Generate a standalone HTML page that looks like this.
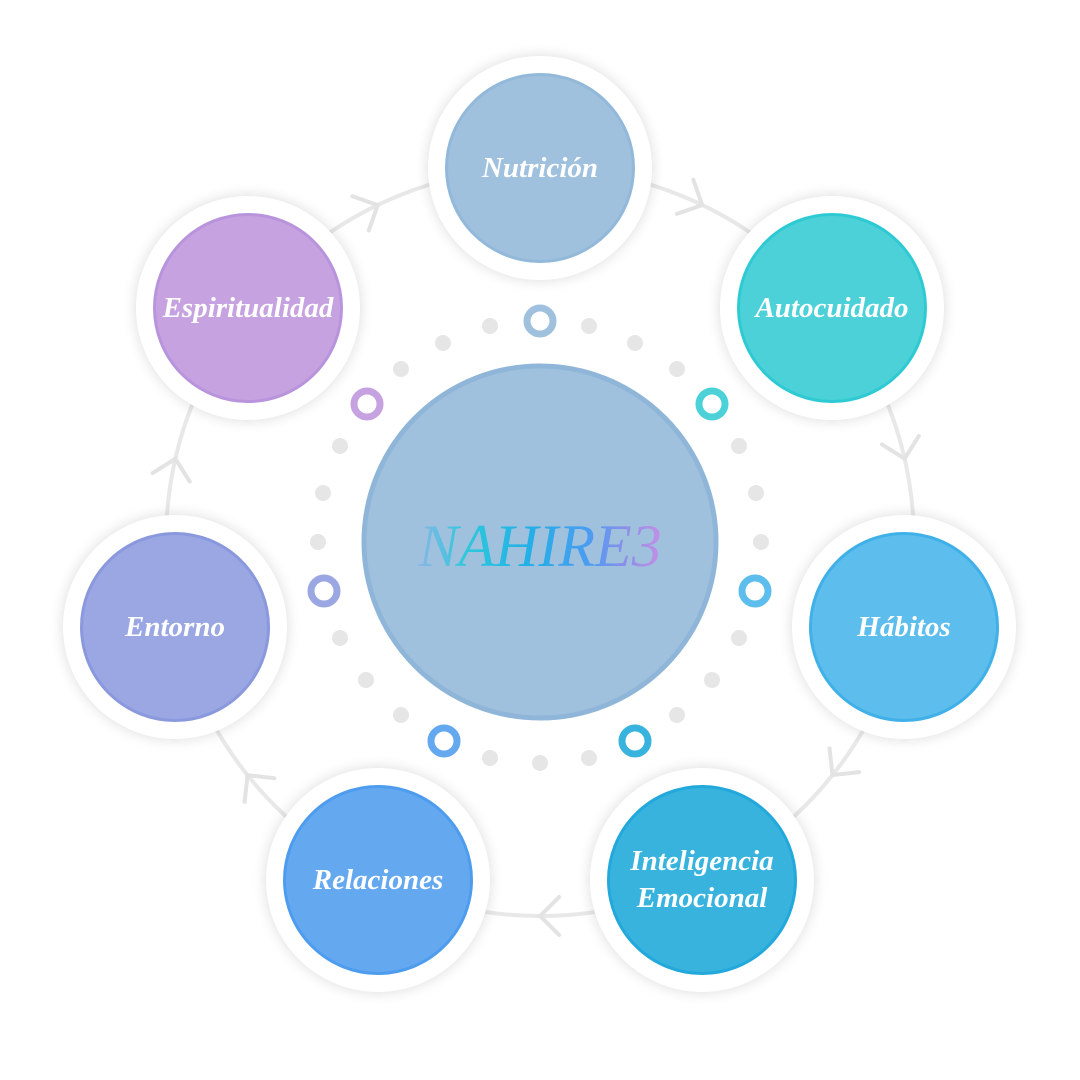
<!DOCTYPE html>
<html><head><meta charset="utf-8"><style>
body{margin:0;width:1080px;height:1080px;background:#fff;position:relative;overflow:hidden;font-family:"Liberation Serif",serif}
.o{position:absolute;width:224px;height:224px;border-radius:50%;background:#fff;box-shadow:0 0 14px rgba(0,0,0,0.14)}
.i{position:absolute;left:17px;top:17px;width:184px;height:184px;border-radius:50%;border:3px solid;display:flex;align-items:center;justify-content:center;text-align:center;color:#fff;font-style:italic;font-weight:bold;font-size:29px;line-height:37px}
svg{position:absolute;left:0;top:0}
</style></head><body>
<svg width="1080" height="1080">
<circle cx="540" cy="542" r="374" fill="none" stroke="#e8e8e8" stroke-width="4"/>
<g fill="none" stroke="#e3e3e3" stroke-width="4" stroke-linecap="round" id="arr"></g>
<g fill="#e6e6e6">
<circle cx="490" cy="326" r="8"/><circle cx="589" cy="326" r="8"/><circle cx="443" cy="343" r="8"/><circle cx="635" cy="343" r="8"/><circle cx="401" cy="369" r="8"/><circle cx="677" cy="369" r="8"/><circle cx="340" cy="446" r="8"/><circle cx="739" cy="446" r="8"/><circle cx="323" cy="493" r="8"/><circle cx="756" cy="493" r="8"/><circle cx="318" cy="542" r="8"/><circle cx="761" cy="542" r="8"/><circle cx="340" cy="638" r="8"/><circle cx="739" cy="638" r="8"/><circle cx="366" cy="680" r="8"/><circle cx="712" cy="680" r="8"/><circle cx="401" cy="715" r="8"/><circle cx="677" cy="715" r="8"/><circle cx="490" cy="758" r="8"/><circle cx="589" cy="758" r="8"/><circle cx="540" cy="763" r="8"/>
</g>
<g fill="none" stroke-width="7">
<circle cx="540" cy="321" r="13" stroke="#9fc1de"/><circle cx="712" cy="404" r="13" stroke="#4dd1d8"/><circle cx="755" cy="591" r="13" stroke="#5dbdec"/><circle cx="635" cy="741" r="13" stroke="#38b3de"/><circle cx="444" cy="741" r="13" stroke="#64a8f0"/><circle cx="324" cy="591" r="13" stroke="#9ba7e3"/><circle cx="367" cy="404" r="13" stroke="#c6a3e0"/>
</g>
<circle cx="540" cy="542" r="176" fill="#a0c1dd" stroke="#8fb6d8" stroke-width="5"/>
<defs><linearGradient id="g" x1="0" x2="1"><stop offset="0" stop-color="#8ab6e6"/><stop offset="0.2" stop-color="#2ec8dc"/><stop offset="0.45" stop-color="#22b0e6"/><stop offset="0.7" stop-color="#4a9cf2"/><stop offset="0.85" stop-color="#8b8fe8"/><stop offset="1" stop-color="#c48fe6"/></linearGradient></defs>
<text x="540" y="566" text-anchor="middle" font-family="Liberation Serif" font-style="italic" font-size="60" fill="url(#g)">NAHIRE3</text>
</svg>
<div class="o" style="left:428px;top:56px"><div class="i" style="background:#a0c1dd;border-color:#92b8da">Nutrición</div></div>
<div class="o" style="left:720px;top:196px"><div class="i" style="background:#4dd1d8;border-color:#2ecad4">Autocuidado</div></div>
<div class="o" style="left:792px;top:515px"><div class="i" style="background:#5dbdec;border-color:#40b0e8">Hábitos</div></div>
<div class="o" style="left:590px;top:768px"><div class="i" style="background:#38b3de;border-color:#22a8db">Inteligencia<br>Emocional</div></div>
<div class="o" style="left:266px;top:768px"><div class="i" style="background:#64a8f0;border-color:#4d9cee">Relaciones</div></div>
<div class="o" style="left:63px;top:515px"><div class="i" style="background:#9ba7e3;border-color:#8a98dd">Entorno</div></div>
<div class="o" style="left:136px;top:196px"><div class="i" style="background:#c6a3e0;border-color:#b894dc">Espiritualidad</div></div>
<script>
var g=document.getElementById('arr'),s='';
for(var k=0;k<7;k++){var t=(-90+51.43*k+25.7)*Math.PI/180;var x=540+374*Math.cos(t),y=542+374*Math.sin(t);var d=Math.atan2(Math.cos(t),-Math.sin(t))*180/Math.PI;
s+='<path transform="translate('+x.toFixed(1)+','+y.toFixed(1)+') rotate('+d.toFixed(1)+')" d="M-19,-19 L0,0 L-19,19"/>';}
g.innerHTML=s;
</script>
</body></html>
